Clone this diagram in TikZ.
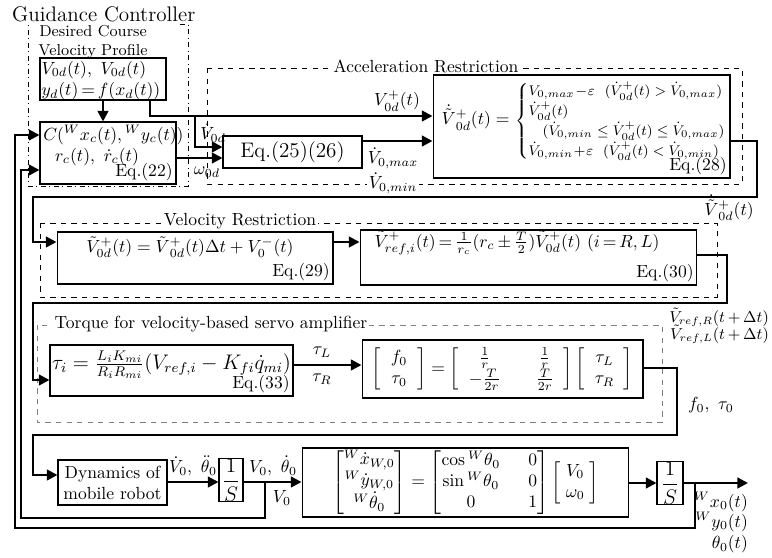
\documentclass[tikz,border=0pt]{standalone}
\usepackage{amsmath,amssymb}
\usepackage{tikz}
\usetikzlibrary{arrows.meta, positioning}
\begin{document}
\begin{tikzpicture}[
    x=0.02cm, y=-0.02cm,
    blk/.style={rectangle,draw,line width=0.6pt,inner sep=1pt},
    arrow/.style={-{Triangle[length=6pt,width=6pt]},line width=1.3pt},
    group/.style={dashed,line width=0.5pt},
    grouptitle/.style={fill=white,inner sep=1pt},
    eqno/.style={anchor=south east,inner sep=2pt},
    lbl/.style={inner sep=1pt}
]
\useasboundingbox (0,0) rectangle (772,558);
\node[anchor=west,font=\large] (gtitle) at (6,14) {Guidance Controller};
\node[align=center,inner sep=0pt,font=\small] (dtitle) at (93,42) {Desired Course\\Velocity Profile};
\node[blk,minimum width=2.52cm,minimum height=0.84cm] (prof) at (103,79) {};
\node[anchor=west,align=left,inner sep=1pt] (proftxt) at (prof.west) {$V_{0d}(t),\ \dot V_{0d}(t)$\\$y_d(t)\,{=}\,f(x_d(t))$};
\node[blk,minimum width=2.72cm,minimum height=1.24cm] (cbox) at (108,153) {};
\node[anchor=north west,align=left,inner sep=2pt] (ctxt) at (cbox.north west) {$C({}^Wx_c(t),{}^Wy_c(t))$\\$\ \ r_c(t),\ \dot r_c(t)$};
\node[eqno] (eq22) at (cbox.south east) {Eq.(22)};
\draw[dash dot,line width=0.5pt] (180,24) -- (188,24) -- (188,186) -- (28,186) -- (28,24);
\draw[group] (207,68) rectangle (742,184);
\node[grouptitle] (atitle) at (426,66) {Acceleration Restriction};
\node[blk,minimum width=2.78cm,minimum height=0.64cm,font=\large] (eqa) at (292.5,152) {Eq.(25)(26)};
\node[blk,minimum width=5.94cm,minimum height=2.06cm] (acc) at (581.5,126.5) {};
\node[anchor=west,inner sep=0pt] (acctxt) at ([xshift=5pt,yshift=3pt]acc.west) {$\dot{\tilde V}{}^{+}_{0d}(t)=$ {\footnotesize$\begin{cases}V_{0,max}\!-\!\varepsilon\ \ (\dot V^{+}_{0d}(t)>\dot V_{0,max})\\ \dot V^{+}_{0d}(t)\\ \quad(\dot V_{0,min}\le\dot V^{+}_{0d}(t)\le\dot V_{0,max})\\ \dot V_{0,min}\!+\!\varepsilon\ \ (\dot V^{+}_{0d}(t)<\dot V_{0,min})\end{cases}$}};
\node[eqno] (eq28) at (acc.south east) {Eq.(28)};
\draw[group] (40,223) rectangle (717,297);
\node[grouptitle] (vtitle) at (240,221) {Velocity Restriction};
\node[blk,minimum width=5.52cm,minimum height=1.04cm] (vel) at (195,258) {};
\node (veltxt) at (190,245) {$\tilde V^{+}_{0d}(t)=\dot{\tilde V}{}^{+}_{0d}(t)\Delta t+V_0^{-}(t)$};
\node[eqno] (eq29) at (vel.south east) {Eq.(29)};
\node[blk,minimum width=6.74cm,minimum height=1.1cm] (ref) at (528.5,257.5) {};
\node (reftxt) at (517,243) {$\tilde V^{+}_{ref,i}(t)\,{=}\,\frac{1}{r_c}(r_c\,{\pm}\,\frac{T}{2})\tilde V^{+}_{0d}(t)\ (i\,{=}\,R,L)$};
\node[eqno] (eq30) at (ref.south east) {Eq.(30)};
\draw[group,gray] (37,325) rectangle (662,422);
\node[grouptitle] (ttitle) at (211,324) {Torque for velocity-based servo amplifier};
\node[blk,minimum width=4.86cm,minimum height=1.02cm] (tau) at (171.5,370.5) {};
\node[font=\large] (tautxt) at (171.5,365) {$\tau_i=\frac{L_iK_{mi}}{R_iR_{mi}}(V_{ref,i}-K_{fi}\dot q_{mi})$};
\node[eqno] (eq33) at (tau.south east) {Eq.(33)};
\node[blk,minimum width=5.62cm,minimum height=1.16cm] (ftau) at (502.5,369) {$\begin{bmatrix}\;\;f_0\;\;\\ \;\;\tau_0\;\;\end{bmatrix}=\begin{bmatrix}\;\;\frac{1}{r} & \quad\frac{1}{r}\;\;\\ \;\;-\frac{T}{2r} & \quad\frac{T}{2r}\;\;\end{bmatrix}\begin{bmatrix}\;\;\tau_L\;\;\\ \;\;\tau_R\;\;\end{bmatrix}$};
\node[blk,minimum width=2.18cm,minimum height=0.9cm,align=center] (dyn) at (112.5,482.5) {Dynamics of\\mobile robot};
\node[blk,minimum width=0.48cm,minimum height=0.8cm,inner sep=0pt,font=\large] (intA) at (231,480) {$\dfrac{1}{S}$};
\node[blk,minimum width=6.54cm,minimum height=1.38cm] (kin) at (465.5,482.5) {\setlength{\arraycolsep}{8pt}$\begin{bmatrix}{}^W\dot x_{W,0}\\ {}^W\dot y_{W,0}\\ {}^W\dot\theta_0\end{bmatrix}=\begin{bmatrix}\cos{}^W\theta_0 & 0\\ \sin{}^W\theta_0 & 0\\ 0 & 1\end{bmatrix}\begin{bmatrix}\;V_0\;\\ \;\omega_0\;\end{bmatrix}$};
\node[blk,minimum width=0.52cm,minimum height=0.8cm,inner sep=0pt,font=\large] (intB) at (670,483) {$\dfrac{1}{S}$};
\coordinate (profout) at (150,116);
\coordinate (vbr) at (195,116);
\coordinate (yv) at (0,147);
\coordinate (yw) at (0,158);
\coordinate (ymax) at (0,141);
\coordinate (accR) at (757,197);
\coordinate (accL) at (33,197);
\coordinate (yvel) at (0,242);
\coordinate (yref) at (0,255);
\coordinate (refR) at (727,303);
\coordinate (refL) at (33,303);
\coordinate (ytauin) at (0,380);
\coordinate (ytau) at (0,365);
\coordinate (yft) at (0,368);
\coordinate (ftR) at (677,435);
\coordinate (ftL) at (33,435);
\coordinate (ydynin) at (0,475);
\coordinate (vbr2) at (265,482);
\coordinate (vfbB) at (21,518);
\coordinate (yvfb) at (0,170);
\coordinate (pbr) at (695,483);
\coordinate (pfbB) at (15,528);
\coordinate (ypfb) at (0,135);
\coordinate (out) at (748,483);
\draw[arrow] (prof.south) -- (prof.south |- cbox.north);
\draw[arrow] (prof.south -| profout) |- (acc.west |- profout);
\draw[arrow] (vbr) |- (eqa.west |- yv);
\draw[arrow] (cbox.east |- yw) -- (eqa.west |- yw);
\draw[arrow] (eqa.east |- ymax) -- (acc.west |- ymax);
\draw[arrow] (acc.east |- ymax) -| (accR) -- (accL) |- (vel.west |- yvel);
\draw[arrow] (vel.east |- yvel) -- (ref.west |- yvel);
\draw[arrow] (ref.east |- yref) -| (refR) -- (refL) |- (tau.west |- ytauin);
\draw[arrow] (tau.east |- ytau) -- (ftau.west |- ytau);
\draw[arrow] (ftau.east |- yft) -| (ftR) -- (ftL) |- (dyn.west |- ydynin);
\draw[arrow] (dyn.east |- vbr2) -- (intA.west |- vbr2);
\draw[arrow] (intA.east |- vbr2) -- (kin.west |- vbr2);
\draw[arrow] (vbr2) -- (vbr2 |- vfbB) -- (vfbB) |- (cbox.west |- yvfb);
\draw[arrow] (kin.east |- pbr) -- (intB.west |- pbr);
\draw[arrow] (intB.east |- pbr) -- (out);
\draw[arrow] (pbr) -- (pbr |- pfbB) -- (pfbB) |- (cbox.west |- ypfb);
\node[lbl] (lvp) at (397,101) {$V^{+}_{0d}(t)$};
\node[lbl] (lvd) at (213,133) {$\dot V_{0d}$};
\node[lbl] (lw) at (207,172) {$\omega_{0d}$};
\node[lbl] (lmax) at (393,158) {$\dot V_{0,max}$};
\node[lbl,fill=white] (lmin) at (393,183) {$\dot V_{0,min}$};
\node[lbl] (lacc) at (729,208) {$\dot{\tilde V}{}^{+}_{0d}(t)$};
\node[lbl,anchor=east,font=\small] (lrefR) at (771,317) {$\tilde V_{ref,R}(t\,{+}\,\Delta t)$};
\node[lbl,anchor=east,font=\small] (lrefL) at (771,334) {$\tilde V_{ref,L}(t\,{+}\,\Delta t)$};
\node[lbl] (ltl) at (322,352) {$\tau_L$};
\node[lbl] (ltr) at (322,379) {$\tau_R$};
\node[lbl,anchor=west] (lft) at (686,405) {$f_0,\ \tau_0$};
\node[lbl] (lacc0) at (193,466) {$\dot V_0,\ \ddot\theta_0$};
\node[lbl] (lvel0) at (273,466) {$V_0,\ \dot\theta_0$};
\node[lbl] (lv0) at (282,498) {$V_0$};
\node[lbl,anchor=east] (lx) at (750,502) {${}^Wx_0(t)$};
\node[lbl,anchor=east] (ly) at (750,522) {${}^Wy_0(t)$};
\node[lbl,anchor=east] (lth) at (750,544) {$\theta_0(t)$};
\end{tikzpicture}
\end{document}
